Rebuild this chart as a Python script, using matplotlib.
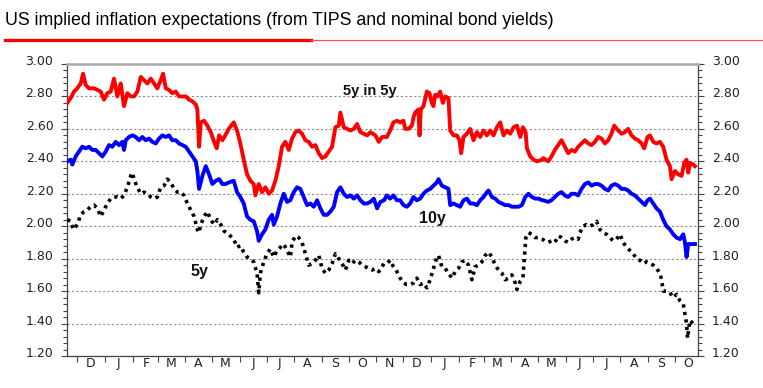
import matplotlib
matplotlib.use('Agg')
import matplotlib.pyplot as plt
import matplotlib.dates as mdates
import matplotlib.transforms as mtransforms
from matplotlib.ticker import FixedLocator, MultipleLocator, FuncFormatter, NullFormatter
from matplotlib.lines import Line2D
import pandas as pd

# ---------------- data (day offset from 2012-11-20, value in %) ----------------
start_date = '2012-11-20'
end_date = '2014-10-27'

five_in_five = [
    (0, 2.76), (3.8, 2.79), (7.5, 2.83), (11.2, 2.85), (15, 2.88), (17.6, 2.94), (20.6, 2.87), (24.3, 2.85),
    (29.9, 2.85), (33.6, 2.84), (37.4, 2.83), (41.1, 2.78), (44.8, 2.82), (48.6, 2.83), (52.3, 2.91), (56, 2.80),
    (59.8, 2.88), (63.5, 2.74), (67.2, 2.82), (71, 2.80), (74.7, 2.80), (78.4, 2.83), (82.2, 2.92), (85.9, 2.90),
    (89.6, 2.88), (93.4, 2.91), (97.1, 2.88), (100.8, 2.85), (104.6, 2.90), (107.2, 2.94), (110.2, 2.85), (113.9, 2.84),
    (117.6, 2.82), (121.4, 2.83), (125.1, 2.80), (128.8, 2.80), (132.6, 2.80), (136.3, 2.78), (140, 2.77), (143.8, 2.75),
    (145.6, 2.72), (147.5, 2.49), (149.4, 2.64), (153.1, 2.65), (156.8, 2.62), (160.6, 2.58), (164.3, 2.52), (167.3, 2.48),
    (169.9, 2.56), (173.6, 2.53), (176.9, 2.56), (180.7, 2.60), (186.3, 2.64), (190, 2.59), (193.7, 2.51), (197.5, 2.41),
    (201.2, 2.32), (204.9, 2.28), (208.7, 2.26), (210.5, 2.19), (214.3, 2.26), (218, 2.21), (221.7, 2.24), (225.5, 2.20),
    (229.2, 2.22), (232.9, 2.28), (236.7, 2.37), (240.4, 2.49), (244.1, 2.52), (247.9, 2.47), (251.6, 2.54), (255.3, 2.58),
    (259.1, 2.59), (262.8, 2.57), (266.5, 2.53), (270.3, 2.52), (274, 2.49), (277.7, 2.50), (281.5, 2.45), (285.2, 2.42),
    (288.9, 2.43), (292.7, 2.46), (296.4, 2.49), (300.1, 2.61), (303.9, 2.62), (305.7, 2.70), (309.5, 2.61), (313.2, 2.60),
    (316.9, 2.59), (320.7, 2.60), (324.4, 2.63), (328.1, 2.58), (331.9, 2.57), (335.6, 2.56), (339.3, 2.58), (344.9, 2.56),
    (348.7, 2.52), (352.4, 2.55), (357.7, 2.55), (361.4, 2.59), (365.1, 2.64), (368.9, 2.65), (372.6, 2.64), (376.3, 2.65),
    (378.2, 2.60), (381.9, 2.60), (385.7, 2.62), (387.5, 2.67), (389.4, 2.70), (393.1, 2.72), (394.3, 2.56), (395.7, 2.72),
    (398.7, 2.74), (402.5, 2.83), (405.4, 2.82), (408.1, 2.76), (409.9, 2.74), (411.8, 2.81), (414.4, 2.80), (417.4, 2.83),
    (420.4, 2.76), (423, 2.80), (426.7, 2.79), (428.6, 2.59), (432.3, 2.56), (436.1, 2.56), (439, 2.53), (440.9, 2.45),
    (443.5, 2.55), (447.3, 2.57), (451, 2.60), (454.7, 2.53), (458.5, 2.58), (462.2, 2.55), (465.9, 2.59), (469.7, 2.56),
    (473.4, 2.59), (477.1, 2.56), (480.9, 2.61), (484.6, 2.64), (488.3, 2.56), (492.1, 2.59), (495.8, 2.57), (499.5, 2.61),
    (503.3, 2.62), (507, 2.55), (510, 2.61), (513, 2.58), (514.5, 2.48), (518.2, 2.43), (521.9, 2.41), (525.7, 2.40),
    (531.6, 2.41), (532.7, 2.42), (538.3, 2.40), (542, 2.43), (545.8, 2.47), (549.5, 2.50), (553.2, 2.53), (557, 2.49),
    (560.7, 2.45), (564.4, 2.47), (568.2, 2.46), (571.9, 2.49), (575.6, 2.51), (579.4, 2.53), (583.1, 2.51), (586.8, 2.50),
    (590.6, 2.52), (594.3, 2.55), (598, 2.54), (601.8, 2.51), (605.5, 2.53), (609.2, 2.57), (612.2, 2.62), (616.7, 2.59),
    (620.4, 2.57), (624.2, 2.58), (627.9, 2.60), (631.6, 2.56), (635.4, 2.54), (639.1, 2.53), (642.8, 2.51), (645.8, 2.48),
    (649.5, 2.55), (652.2, 2.56), (655.9, 2.52), (659.6, 2.51), (663.4, 2.52), (667.1, 2.49), (670.8, 2.41), (674.6, 2.37),
    (676.4, 2.29), (680.2, 2.34), (683.9, 2.32), (687.6, 2.31), (690.6, 2.39), (693.2, 2.41), (695.1, 2.33), (697, 2.39),
    (700.7, 2.38), (702.6, 2.37),
]

ten_year = [
    (0, 2.40), (3.8, 2.41), (5.6, 2.38), (9.4, 2.43), (13.1, 2.46), (16.8, 2.49), (20.6, 2.48), (24.3, 2.49),
    (28, 2.47), (31.8, 2.47), (35.5, 2.45), (39.2, 2.43), (43, 2.46), (46.7, 2.50), (50.4, 2.49), (54.2, 2.52),
    (57.9, 2.50), (61.6, 2.52), (63.5, 2.47), (65.4, 2.53), (69.1, 2.55), (72.8, 2.56), (76.6, 2.55), (80.3, 2.53),
    (84, 2.55), (87.8, 2.53), (91.5, 2.54), (95.2, 2.52), (99, 2.51), (102.7, 2.54), (106.4, 2.56), (110.2, 2.55),
    (113.9, 2.56), (117.6, 2.53), (121.4, 2.53), (125.1, 2.51), (128.8, 2.50), (132.6, 2.49), (136.3, 2.46), (140, 2.43),
    (143.8, 2.40), (145.6, 2.34), (147.5, 2.23), (151.2, 2.31), (155, 2.37), (158.7, 2.32), (162.4, 2.26), (166.2, 2.28),
    (169.9, 2.29), (173.6, 2.26), (176.9, 2.26), (180.7, 2.27), (186.3, 2.28), (190, 2.21), (193.7, 2.18), (197.5, 2.14),
    (201.2, 2.06), (204.9, 2.04), (208.7, 2.03), (212.4, 1.97), (214.3, 1.91), (218, 1.95), (221.7, 1.98), (225.5, 2.04),
    (229.2, 2.07), (231.1, 2.01), (234.8, 2.06), (238.5, 2.14), (242.3, 2.20), (246, 2.15), (249.7, 2.16), (253.5, 2.21),
    (257.2, 2.24), (260.9, 2.23), (264.7, 2.18), (268.4, 2.13), (272.1, 2.14), (275.9, 2.12), (279.6, 2.16), (283.3, 2.11),
    (287.1, 2.07), (290.8, 2.07), (294.5, 2.09), (298.3, 2.12), (302, 2.21), (305.7, 2.24), (309.5, 2.20), (313.2, 2.18),
    (316.9, 2.19), (320.7, 2.17), (324.4, 2.19), (328.1, 2.16), (331.9, 2.14), (335.6, 2.14), (339.3, 2.15), (343.1, 2.17),
    (346.8, 2.11), (350.5, 2.15), (354.6, 2.16), (357.7, 2.19), (361.4, 2.17), (365.1, 2.19), (368.9, 2.16), (372.6, 2.16),
    (376.3, 2.13), (380.1, 2.12), (383.8, 2.14), (387.5, 2.18), (391.3, 2.16), (395, 2.17), (398.7, 2.20), (402.5, 2.22),
    (406.2, 2.23), (409.9, 2.25), (413.7, 2.27), (415.5, 2.29), (419.3, 2.25), (423, 2.24), (426.7, 2.23), (428.6, 2.13),
    (432.3, 2.14), (436.1, 2.13), (439.8, 2.12), (443.5, 2.16), (447.3, 2.17), (451, 2.14), (454.7, 2.14), (458.5, 2.13),
    (462.2, 2.16), (465.9, 2.18), (469.7, 2.21), (471.5, 2.22), (475.3, 2.18), (479, 2.17), (482.7, 2.15), (486.5, 2.14),
    (490.2, 2.13), (493.9, 2.13), (497.7, 2.12), (501.4, 2.12), (505.1, 2.12), (508.9, 2.13), (512.6, 2.18), (516.3, 2.20),
    (520.1, 2.18), (523.8, 2.17), (527.5, 2.17), (531.6, 2.16), (532.7, 2.16), (538.3, 2.15), (542, 2.16), (545.8, 2.18),
    (549.5, 2.20), (553.2, 2.21), (557, 2.19), (560.7, 2.18), (564.4, 2.20), (568.2, 2.20), (571.9, 2.19), (575.6, 2.23),
    (579.4, 2.26), (583.1, 2.27), (586.8, 2.25), (590.6, 2.26), (594.3, 2.26), (598, 2.25), (601.8, 2.23), (605.5, 2.22),
    (609.2, 2.25), (613, 2.26), (616.7, 2.25), (620.4, 2.23), (624.2, 2.23), (627.9, 2.22), (631.6, 2.20), (635.4, 2.19),
    (639.1, 2.17), (642.8, 2.15), (646.6, 2.13), (649.5, 2.16), (652.2, 2.17), (655.9, 2.14), (659.6, 2.11), (663.4, 2.09),
    (667.1, 2.04), (670.8, 2.00), (674.6, 1.98), (678.3, 1.95), (682, 1.93), (685.8, 1.92), (689.5, 1.95), (691.4, 1.90),
    (693.2, 1.81), (695.1, 1.89), (698.8, 1.89), (702.6, 1.89),
]

five_year = [
    (0, 2.04), (3.8, 2.03), (6.8, 1.98), (11.2, 2.01), (15, 2.07), (18.7, 2.09), (22.4, 2.10), (26.2, 2.12),
    (29.9, 2.13), (33.6, 2.11), (37.4, 2.06), (41.1, 2.10), (44.8, 2.14), (48.6, 2.17), (52.3, 2.18), (56, 2.18),
    (59.8, 2.17), (63.5, 2.19), (67.2, 2.24), (71, 2.31), (72.8, 2.33), (74.7, 2.29), (78.4, 2.24), (82.2, 2.20),
    (85.9, 2.21), (89.6, 2.20), (93.4, 2.18), (97.1, 2.17), (100.8, 2.18), (104.6, 2.24), (108.3, 2.25), (112, 2.29),
    (115.8, 2.27), (119.5, 2.23), (123.2, 2.21), (127, 2.21), (130.7, 2.19), (134.4, 2.14), (138.2, 2.10), (141.9, 2.06),
    (145.6, 1.98), (147.5, 1.96), (149.4, 2.01), (153.1, 2.06), (156.8, 2.09), (160.6, 2.04), (164.3, 2.01), (168, 2.04),
    (171.8, 2.01), (175.5, 1.97), (180.7, 1.95), (186.3, 1.92), (190, 1.87), (193.7, 1.88), (197.5, 1.84), (201.2, 1.81),
    (204.9, 1.80), (208.7, 1.78), (212.4, 1.71), (214.3, 1.59), (216.1, 1.71), (219.9, 1.78), (223.6, 1.83), (227.3, 1.86),
    (231.1, 1.81), (234.8, 1.85), (238.5, 1.87), (242.3, 1.89), (246, 1.85), (249.7, 1.81), (251.6, 1.90), (255.3, 1.94),
    (259.1, 1.93), (262.8, 1.90), (266.5, 1.83), (270.3, 1.76), (274, 1.77), (277.7, 1.79), (281.5, 1.82), (285.2, 1.74),
    (288.9, 1.71), (292.7, 1.73), (296.4, 1.77), (300.1, 1.83), (303.9, 1.80), (307.6, 1.77), (311.3, 1.73), (315.1, 1.79),
    (318.8, 1.77), (322.5, 1.79), (326.3, 1.78), (330, 1.76), (333.7, 1.75), (337.5, 1.74), (341.2, 1.73), (344.9, 1.74),
    (348.7, 1.72), (354.6, 1.77), (357.7, 1.77), (361.4, 1.79), (365.1, 1.75), (368.9, 1.72), (372.6, 1.68), (376.3, 1.65),
    (380.1, 1.64), (383.8, 1.64), (387.5, 1.65), (391.3, 1.68), (395, 1.64), (398.7, 1.65), (402.5, 1.62), (406.2, 1.67),
    (409.9, 1.74), (413.7, 1.81), (415.5, 1.82), (419.3, 1.75), (423, 1.74), (426.7, 1.71), (430.5, 1.68), (434.2, 1.72),
    (437.9, 1.74), (441.7, 1.78), (445.4, 1.79), (449.1, 1.76), (452.9, 1.67), (456.6, 1.75), (460.3, 1.76), (464.1, 1.78),
    (467.8, 1.82), (471.5, 1.84), (475.3, 1.81), (479, 1.76), (482.7, 1.73), (486.5, 1.71), (490.2, 1.67), (493.9, 1.68),
    (497.7, 1.70), (501.4, 1.65), (503.3, 1.61), (507, 1.66), (510, 1.68), (511.5, 1.79), (513.3, 1.93), (516.3, 1.96),
    (520.1, 1.95), (523.8, 1.93), (527.5, 1.93), (531.6, 1.92), (534.6, 1.91), (538.3, 1.90), (542, 1.91), (545.8, 1.90),
    (549.5, 1.94), (553.2, 1.93), (557, 1.91), (560.7, 1.90), (564.4, 1.92), (568.2, 1.93), (571.9, 1.92), (573.8, 1.96),
    (577.5, 2.00), (581.2, 2.01), (585, 2.00), (588.7, 2.01), (592.4, 2.03), (596.2, 1.98), (599.9, 1.96), (603.6, 1.95),
    (607.4, 1.93), (611.1, 1.91), (614.8, 1.92), (618.6, 1.95), (622.3, 1.90), (626, 1.87), (629.8, 1.85), (633.5, 1.83),
    (637.2, 1.80), (641, 1.79), (644.7, 1.77), (648.4, 1.78), (652.2, 1.77), (655.9, 1.76), (659.6, 1.74), (663.4, 1.71),
    (665.2, 1.67), (667.1, 1.60), (670.8, 1.60), (674.6, 1.59), (678.3, 1.56), (682, 1.58), (685.8, 1.54), (689.5, 1.52),
    (691.4, 1.46), (693.2, 1.40), (694.3, 1.31), (697, 1.42), (698.8, 1.41), (700.7, 1.39),
]

y_ticks = [1.20, 1.40, 1.60, 1.80, 2.00, 2.20, 2.40, 2.60, 2.80, 3.00]
title_text = 'US implied inflation expectations (from TIPS and nominal bond yields)'
series_labels = {'5y in 5y': (339, 2.835), '10y': (409, 2.045), '5y': (148, 1.72)}


def to_xy(pairs):
    d = pd.Timestamp(start_date) + pd.to_timedelta([p[0] for p in pairs], unit='D')
    return d, [p[1] for p in pairs]


fig = plt.figure(figsize=(7.63, 3.88), dpi=100)
ax = fig.add_axes([0.0882, 0.0825, 0.8266, 0.7526])

x, y = to_xy(ten_year)
ax.plot(x, y, color='#0000ff', lw=2.8, solid_joinstyle='round', zorder=3)
x, y = to_xy(five_in_five)
ax.plot(x, y, color='#ff0000', lw=2.8, solid_joinstyle='round', zorder=3)
x, y = to_xy(five_year)
ax.plot(x, y, color='black', lw=2.6, linestyle=(0, (0.9, 1.2)), zorder=3)

ax.set_xlim(pd.Timestamp(start_date), pd.Timestamp(end_date))
ax.set_ylim(1.2, 3.0)

# x axis: month ticks and centered month initials
ax.xaxis.set_major_locator(mdates.MonthLocator())
ax.xaxis.set_major_formatter(NullFormatter())
ax.xaxis.set_minor_locator(mdates.MonthLocator(bymonthday=16))
ax.xaxis.set_minor_formatter(FuncFormatter(lambda v, p: mdates.num2date(v).strftime('%b')[0]))
ax.tick_params(axis='x', which='major', length=4, width=0.8, color='#444444', direction='out')
ax.tick_params(axis='x', which='minor', length=0, pad=1, labelsize=9, labelcolor='#222222')

# y axis on both sides
ax.yaxis.set_major_locator(FixedLocator(y_ticks))
ax.yaxis.set_major_formatter(FuncFormatter(lambda v, p: f'{v:.2f}'))
ax.yaxis.set_minor_locator(MultipleLocator(0.04))
ax.tick_params(axis='y', which='both', left=True, right=True, labelleft=True, labelright=True,
               direction='out', color='#444444', width=0.8)
ax.tick_params(axis='y', which='major', length=4, pad=6, labelsize=9, labelcolor='#222222')
ax.tick_params(axis='y', which='minor', length=3)

for lab in ax.get_xticklabels(which='minor') + ax.get_yticklabels():
    lab.set_fontfamily('DejaVu Sans')

ax.grid(axis='y', which='major', color='#8c8c8c', linestyle=(0, (2, 2)), linewidth=0.8, zorder=1)

for side in ['left', 'right', 'bottom']:
    ax.spines[side].set_color('#444444')
    ax.spines[side].set_linewidth(0.9)
ax.spines['top'].set_color('#a8a8a8')
ax.spines['top'].set_linewidth(1.8)

# shift y tick labels slightly upwards as in the reference
offset = mtransforms.ScaledTranslation(0, 4 / 100, fig.dpi_scale_trans)
for t in ax.yaxis.get_major_ticks():
    t.label1.set_transform(t.label1.get_transform() + offset)
    t.label2.set_transform(t.label2.get_transform() + offset)

# series labels
for txt, (d, v) in series_labels.items():
    size = 10.5 if txt == '5y in 5y' else 11.5
    ax.text(pd.Timestamp(start_date) + pd.Timedelta(days=d), v, txt, ha='center', va='center',
            fontsize=size, fontweight='bold', family='Liberation Sans', color='#111111', zorder=5)

# title and red underline
fig.text(0.007, 0.948, title_text, fontsize=12.8, family='Liberation Sans', color='black',
         ha='left', va='center')
fig.add_artist(Line2D([0.006, 0.407], [0.898, 0.898], color='#ff0000', lw=2.4, transform=fig.transFigure))
fig.add_artist(Line2D([0.407, 1.0], [0.896, 0.896], color='#ff5050', lw=0.9, transform=fig.transFigure))

fig.savefig('out.png', dpi=100)
